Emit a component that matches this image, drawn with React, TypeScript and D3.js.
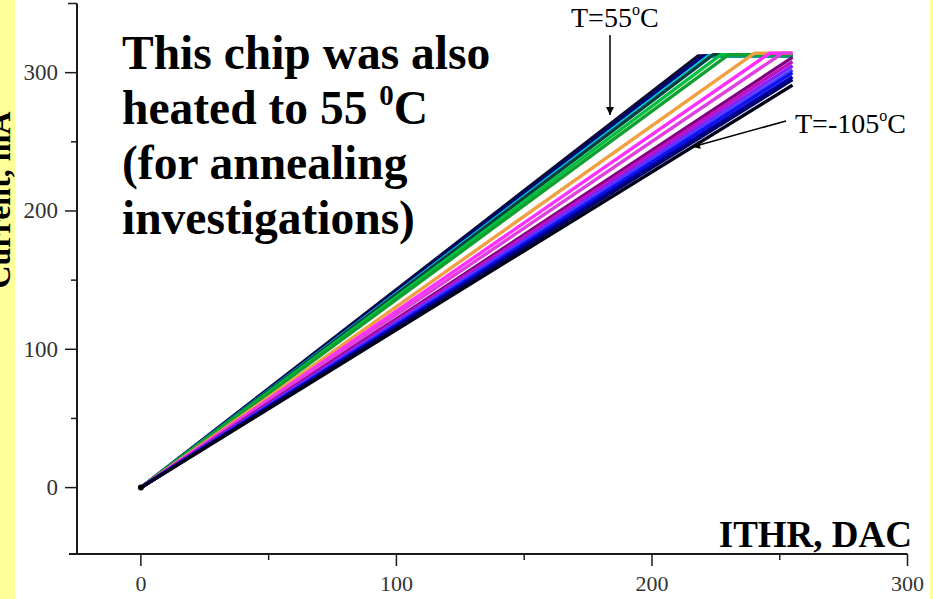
import React, { useEffect, useRef } from "react";
import * as d3 from "d3";

// temperature of each curve, top (hot) to bottom (cold)
const temps = [55, 45, 35, 25, 15, 5, -5, -15, -25, -35, -45, -55, -65, -75, -85, -95, -105];
// ITHR (DAC) where the current stops rising, and the current there (mA)
const kneeDac = [218, 220, 222, 224, 227, 230, 240, 246, 251, 255, 255, 255, 255, 255, 255, 255, 255];
const kneeCurrent = [312, 312, 312, 313, 313, 313, 314, 314, 314, 311, 308, 305, 302, 300, 297, 295, 291];
const colors = [
  "#0b0b30", "#000080", "#00c8c8", "#064040", "#00c040", "#10a030",
  "#f0a040", "#ff30ff", "#e040e0", "#800080", "#c010c0", "#8020ff",
  "#4040ff", "#1010f0", "#0000b0", "#000070", "#000018",
];
const lastDac = 255;

const xTicks = [0, 100, 200, 300];
const xMinor = [50, 150, 250];
const yTicks = [0, 100, 200, 300];
const yMinor = [50, 150, 250];

const noteLines = ["This chip was also", "heated to 55 ", "(for annealing", "investigations)"];

const App: React.FC = () => {
  const svgRef = useRef<SVGSVGElement>(null);

  useEffect(() => {
    const width = 933;
    const height = 599;
    const serif = "'Liberation Serif', 'Times New Roman', serif";

    const svg = d3.select(svgRef.current);
    svg.selectAll("*").remove();

    const x = d3.scaleLinear().domain([-25, 300]).range([77, 907.5]);
    const y = d3.scaleLinear().domain([-48, 350]).range([554, 3.5]);

    // background + yellow side strips
    svg.append("rect").attr("width", width).attr("height", height).attr("fill", "#ffffff");
    svg.append("rect").attr("x", 0).attr("y", 0).attr("width", 15).attr("height", height).attr("fill", "#ffff99");
    svg.append("rect").attr("x", 930).attr("y", 0).attr("width", 3).attr("height", height).attr("fill", "#ffff99");

    // y label, mostly cut by the left edge (as in the original slide)
    svg.append("text")
      .attr("transform", `translate(10, 200) rotate(-90)`)
      .attr("text-anchor", "middle")
      .attr("font-family", serif)
      .attr("font-weight", "bold")
      .attr("font-size", 32)
      .attr("fill", "#000")
      .text("Current, mA");

    // curves
    const line = d3.line<[number, number]>().x((d) => x(d[0])).y((d) => y(d[1]));
    const series = temps.map((t, i) => {
      const pts: [number, number][] = [[0, 0], [kneeDac[i], kneeCurrent[i]]];
      if (kneeDac[i] < lastDac) pts.push([lastDac, kneeCurrent[i]]);
      return pts;
    });
    series.forEach((pts, i) => {
      svg.append("path")
        .attr("d", line(pts)!)
        .attr("fill", "none")
        .attr("stroke", colors[i])
        .attr("stroke-width", 3.4)
        .attr("stroke-linejoin", "round");
    });
    svg.append("circle").attr("cx", x(0)).attr("cy", y(0)).attr("r", 3).attr("fill", "#000");

    // axes
    const axisColor = "#1a1a1a";
    svg.append("line").attr("x1", x(-25)).attr("x2", x(-25)).attr("y1", y(350)).attr("y2", y(-48))
      .attr("stroke", axisColor).attr("stroke-width", 2);
    svg.append("line").attr("x1", x(-25) - 8).attr("x2", x(300)).attr("y1", y(-48)).attr("y2", y(-48))
      .attr("stroke", axisColor).attr("stroke-width", 2);
    svg.append("line").attr("x1", x(-25) - 9).attr("x2", x(-25)).attr("y1", y(350)).attr("y2", y(350))
      .attr("stroke", axisColor).attr("stroke-width", 1.5);

    yTicks.forEach((v) => {
      svg.append("line").attr("x1", x(-25) - 12).attr("x2", x(-25)).attr("y1", y(v)).attr("y2", y(v))
        .attr("stroke", axisColor).attr("stroke-width", 1.5);
      svg.append("text")
        .attr("x", 58).attr("y", y(v) + 7.5)
        .attr("text-anchor", "end")
        .attr("font-family", serif).attr("font-size", 23).attr("fill", "#333")
        .text(v);
    });
    yMinor.forEach((v) => {
      svg.append("line").attr("x1", x(-25) - 6).attr("x2", x(-25)).attr("y1", y(v)).attr("y2", y(v))
        .attr("stroke", axisColor).attr("stroke-width", 1.5);
    });
    xTicks.forEach((v) => {
      svg.append("line").attr("x1", x(v)).attr("x2", x(v)).attr("y1", y(-48)).attr("y2", y(-48) + 12)
        .attr("stroke", axisColor).attr("stroke-width", 1.5);
      svg.append("text")
        .attr("x", x(v)).attr("y", 591)
        .attr("text-anchor", "middle")
        .attr("font-family", serif).attr("font-size", 22).attr("fill", "#333")
        .text(v);
    });
    xMinor.forEach((v) => {
      svg.append("line").attr("x1", x(v)).attr("x2", x(v)).attr("y1", y(-48)).attr("y2", y(-48) + 6)
        .attr("stroke", axisColor).attr("stroke-width", 1.5);
    });

    // x label
    svg.append("text")
      .attr("x", 912).attr("y", 547)
      .attr("text-anchor", "end")
      .attr("font-family", serif).attr("font-weight", "bold").attr("font-size", 37)
      .attr("fill", "#000")
      .text("ITHR, DAC");

    // big note
    const note = svg.append("text")
      .attr("font-family", serif).attr("font-weight", "bold").attr("font-size", 47.5)
      .attr("fill", "#000");
    noteLines.forEach((s, i) => {
      note.append("tspan").attr("x", 122).attr("y", 69 + i * 55).text(s);
      if (i === 1) {
        note.append("tspan").attr("font-size", 29).attr("dy", -19).text("0");
        note.append("tspan").attr("dy", 19).text("C");
      }
    });

    // arrows + temperature labels
    const defs = svg.append("defs");
    defs.append("marker")
      .attr("id", "arr")
      .attr("viewBox", "0 0 10 10")
      .attr("refX", 10).attr("refY", 5)
      .attr("markerWidth", 10).attr("markerHeight", 8)
      .attr("markerUnits", "userSpaceOnUse")
      .attr("orient", "auto")
      .append("path").attr("d", "M0,0 L10,5 L0,10 z").attr("fill", "#000");

    svg.append("line").attr("x1", 610).attr("y1", 35).attr("x2", 610).attr("y2", 115)
      .attr("stroke", "#000").attr("stroke-width", 1.5).attr("marker-end", "url(#arr)");
    svg.append("line").attr("x1", 786).attr("y1", 121).attr("x2", 692).attr("y2", 147)
      .attr("stroke", "#000").attr("stroke-width", 1.5).attr("marker-end", "url(#arr)");

    const tLabel = (lx: number, ly: number, val: string) => {
      const t = svg.append("text")
        .attr("x", lx).attr("y", ly)
        .attr("font-family", serif).attr("font-size", 28).attr("fill", "#000");
      t.append("tspan").text(`T=${val}`);
      t.append("tspan").attr("font-size", 16).attr("dy", -12).text("o");
      t.append("tspan").attr("dy", 12).text("C");
    };
    tLabel(571, 27, String(temps[0]));
    tLabel(795, 133, String(temps[temps.length - 1]));
  }, []);

  return (
    <svg
      ref={svgRef}
      width={933}
      height={599}
      style={{ position: "fixed", left: 0, top: 0, display: "block" }}
    ></svg>
  );
};

export default App;
